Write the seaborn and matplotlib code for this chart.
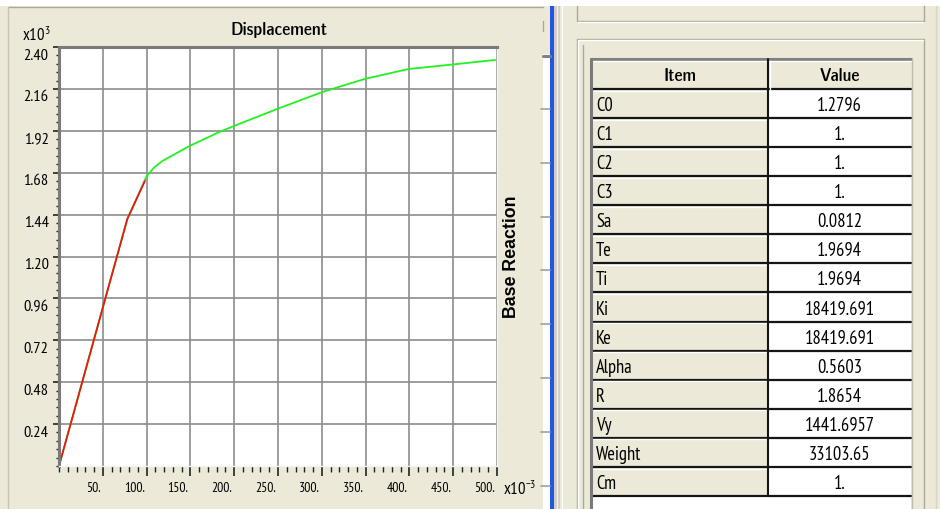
import matplotlib
matplotlib.use("Agg")
import numpy as np
import seaborn as sns
import matplotlib.pyplot as plt
from matplotlib import font_manager
from matplotlib.patches import Rectangle
from matplotlib.ticker import MultipleLocator
from matplotlib.transforms import ScaledTranslation

# capacity curve: displacement (x10^-3) vs base reaction (x10^3)
disp = [0, 78, 100, 109, 118, 149, 183, 200, 249, 274, 300, 349, 399, 448, 498]
base_reaction = [0, 1.415, 1.660, 1.712, 1.747, 1.833, 1.913, 1.948, 2.045,
                 2.092, 2.141, 2.217, 2.274, 2.299, 2.326]
# initial (elastic) branch, drawn in red on top
disp_init = [0, 78, 98]
reaction_init = [0, 1.415, 1.632]

x_ticks = [50, 100, 150, 200, 250, 300, 350, 400, 450, 500]
y_ticks = [0.24, 0.48, 0.72, 0.96, 1.20, 1.44, 1.68, 1.92, 2.16, 2.40]

items = ["C0", "C1", "C2", "C3", "Sa", "Te", "Ti", "Ki", "Ke", "Alpha", "R",
         "Vy", "Weight", "Cm"]
values = ["1.2796", "1.", "1.", "1.", "0.0812", "1.9694", "1.9694",
          "18419.691", "18419.691", "0.5603", "1.8654", "1441.6957",
          "33103.65", "1."]

BEIGE = "#ece9d8"
W, H = 940, 510

sns.set_style("ticks")
plt.rcParams["text.color"] = "black"

fig = plt.figure(figsize=(W / 100, H / 100), dpi=100, facecolor=BEIGE)
renderer = fig.canvas.get_renderer()


def wnum(w):
    if isinstance(w, str):
        return font_manager.weight_dict.get(w, 400)
    return w


def text_width(s, size, **kw):
    t = fig.text(0, 0, s, fontsize=size, **kw)
    w = t.get_window_extent(renderer).width
    t.remove()
    return w


# the UI uses a narrow sans face: pick the installed face closest in width
fonts = font_manager.fontManager.ttflist
names = {f.name for f in fonts}
wide = "Liberation Sans" if "Liberation Sans" in names else "DejaVu Sans"
reg_opts = {(wide, "normal")}
bold_opts = {(wide, "normal")}
for f in fonts:
    if "Serif" in f.name or "Mono" in f.name:
        continue
    if ("Narrow" in f.name or "Condensed" in f.name
            or f.stretch in ("condensed", "semi-condensed")):
        w = wnum(f.weight)
        if 350 <= w <= 500:
            reg_opts.add((f.name, f.stretch))
        if w >= 600:
            bold_opts.add((f.name, f.stretch))


def font_kw(opt, bold=False):
    kw = dict(family=[opt[0], "DejaVu Sans"], stretch=opt[1])
    if bold:
        kw["fontweight"] = "bold"
    return kw


reg = min(sorted(reg_opts),
          key=lambda o: abs(text_width("18419.691", 13.5, **font_kw(o)) - 70))
bld = min(sorted(bold_opts),
          key=lambda o: abs(text_width("Displacement", 13, **font_kw(o, True)) - 97))
REG = font_kw(reg)
BLD = font_kw(bld, True)


def fit(s, target_px, kw, cap=14):
    return min(cap, 10 * target_px / text_width(s, 10, **kw))


fs_ytick = fit("2.40", 25, REG, 15)
fs_xtick = fit("100.", 21, REG, 14)
fs_tab = fit("18419.691", 70, REG, 16)
fs_head = fit("Value", 40, BLD, 15)
fs_title = fit("Displacement", 97, BLD, 15)
fs_exp = fit("x10", 22, REG, 14)
fs_side = fit("Base Reaction", 122, font_kw((wide, "normal"), True), 13)

plt.rcParams["font.family"] = [reg[0], "DejaVu Sans"]
plt.rcParams["font.stretch"] = reg[1]
plt.rcParams["mathtext.fontset"] = "custom"
plt.rcParams["mathtext.rm"] = reg[0]
plt.rcParams["mathtext.it"] = reg[0]

# window chrome drawn in pixel coordinates
bg = fig.add_axes([0, 0, 1, 1], zorder=-1)
bg.set_xlim(0, W)
bg.set_ylim(H, 0)
bg.axis("off")
bg.add_patch(Rectangle((0, 0), W, 7, fc="white", ec="none"))
bg.plot([8, 543], [8, 8], color="#aca899", lw=1)
bg.plot([8, 8], [8, H], color="#c8c4b4", lw=1)
bg.plot([543, 543], [22, 32], color="#aca899", lw=1)
bg.add_patch(Rectangle((543, 55), 7, H - 55, fc="white", ec="none"))
bg.plot([543, 550], [56.5, 56.5], color="#808080", lw=2.2)
for yy in np.arange(110, H, 53.8):
    bg.plot([541, 550], [yy, yy], color="#a0a0a0", lw=1.2)
bg.add_patch(Rectangle((550, 7), 3.5, H - 7, fc="#2156e2", ec="none"))
bg.add_patch(Rectangle((553.5, 7), 6, H - 7, fc="#d0ccc4", ec="none"))
bg.plot([557, 557], [7, H], color="#f4f2ea", lw=1)
bg.plot([562, 562], [7, H], color="#ffffff", lw=1)
# upper and lower panels on the right
bg.plot([577, 577, 924, 924], [7, 22, 22, 7], color="#aca899", lw=1)
bg.plot([578, 923], [23, 23], color="white", lw=1)
bg.plot([577, 577, 924, 924], [H, 40, 40, H], color="#aca899", lw=1)
bg.plot([578, 578, 923], [H, 41, 41], color="white", lw=1)
bg.plot([583, 583], [46, H], color="#aca899", lw=1)
bg.plot([936, 936], [7, H], color="#d8d4c4", lw=1)

# parameter table
tx0, tcol, tx1 = 591, 768, 911
ty0, head_h, row_h = 60, 30, 29.07
bg.add_patch(Rectangle((tx0, ty0), tx1 - tx0, head_h, fc=BEIGE, ec="none"))
bg.text((tx0 + tcol) / 2, ty0 + head_h / 2 + 1, "Item", ha="center", va="center",
        fontsize=fs_head, **BLD)
bg.text((tcol + tx1) / 2, ty0 + head_h / 2 + 1, "Value", ha="center", va="center",
        fontsize=fs_head, **BLD)
for i, (item, val) in enumerate(zip(items, values)):
    y = ty0 + head_h + i * row_h
    bg.add_patch(Rectangle((tx0, y), tcol - tx0, row_h, fc=BEIGE, ec="none"))
    bg.add_patch(Rectangle((tcol, y), tx1 - tcol, row_h, fc="white", ec="none"))
    bg.text(tx0 + 5, y + row_h / 2 + 1.5, item, ha="left", va="center",
            fontsize=fs_tab, **REG)
    bg.text((tcol + tx1) / 2, y + row_h / 2 + 1.5, val, ha="center", va="center",
            fontsize=fs_tab, **REG)
tbot = ty0 + head_h + len(items) * row_h
bg.add_patch(Rectangle((tx0, tbot), tx1 - tx0, H - tbot, fc="white", ec="none"))
for i in range(len(items) + 1):
    y = ty0 + head_h + i * row_h
    bg.plot([tx0, tx1], [y, y], color="#151515", lw=1.6)
    bg.plot([tx0 + 2, tcol - 1], [y + 1.6, y + 1.6], color="white", lw=1)
bg.plot([tx0, tx1], [ty0, ty0], color="#808080", lw=2.2)
bg.plot([tx0 + 2, tx1], [ty0 + 2, ty0 + 2], color="white", lw=1)
bg.plot([tcol, tcol], [ty0, tbot], color="#151515", lw=1.5)
bg.plot([tcol + 1.5, tcol + 1.5], [ty0 + 2, ty0 + head_h], color="white", lw=1)
bg.plot([tx0, tx0], [ty0, H], color="#7a7a7a", lw=2.2)
bg.plot([tx1 + 0.5, tx1 + 0.5], [ty0, H], color="#c0bcac", lw=1)

# capacity curve chart
ax = fig.add_axes([59 / W, 1 - 467 / H, 438 / W, 419 / H])
ax.set_facecolor("white")
sns.lineplot(x=disp, y=base_reaction, ax=ax, color="#22f022", lw=1.3,
             sort=False, estimator=None)
sns.lineplot(x=disp_init, y=reaction_init, ax=ax, color="#f01515", lw=1.3,
             sort=False, estimator=None)
ax.set_xlim(0, 500)
ax.set_ylim(0, 2.40)
ax.set_xticks(x_ticks, labels=[f"{v}." for v in x_ticks])
ax.set_yticks(y_ticks, labels=[f"{v:.2f}" for v in y_ticks])
ax.xaxis.set_minor_locator(MultipleLocator(10))
ax.yaxis.set_minor_locator(MultipleLocator(0.048))
ax.grid(True, which="major", color="#8c8c8c", lw=1.2)
ax.set_axisbelow(True)
ax.set_xlabel("")
ax.set_ylabel("")
ax.tick_params(axis="both", which="both", colors="#222222", labelcolor="black")
ax.tick_params(axis="x", which="major", length=7.5, width=1.2, pad=3,
               labelsize=fs_xtick)
ax.tick_params(axis="x", which="minor", length=4, width=1)
ax.tick_params(axis="y", which="major", length=4.5, width=1.2, pad=3,
               labelsize=fs_ytick)
ax.tick_params(axis="y", which="minor", length=2.5, width=1)
# labels sit just left of the x ticks and slightly below the y ticks
for lab in ax.get_xticklabels():
    lab.set_ha("right")
    lab.set_transform(lab.get_transform() + ScaledTranslation(-0.02, 0, fig.dpi_scale_trans))
for lab in ax.get_yticklabels():
    lab.set_transform(lab.get_transform() + ScaledTranslation(0, -0.06, fig.dpi_scale_trans))
for side in ["top", "left"]:
    ax.spines[side].set_color("#7a7a7a")
    ax.spines[side].set_linewidth(2.2)
for side in ["bottom", "right"]:
    ax.spines[side].set_color("#f4f4f4")
    ax.spines[side].set_linewidth(1)

fig.text(279 / W, 1 - 30 / H, "Displacement", ha="center", va="center",
         fontsize=fs_title, **BLD)
fig.text(22 / W, 1 - 36 / H, r"x10$^{3}$", ha="left", va="center", fontsize=fs_exp)
fig.text(503 / W, 1 - 490 / H, r"x10$^{-3}$", ha="left", va="center", fontsize=fs_exp)
fig.text(512 / W, 1 - 257 / H, "Base Reaction", ha="center", va="center",
         rotation=90, fontsize=fs_side, **font_kw((wide, "normal"), True))

fig.savefig("out.png", dpi=100, facecolor=fig.get_facecolor())
